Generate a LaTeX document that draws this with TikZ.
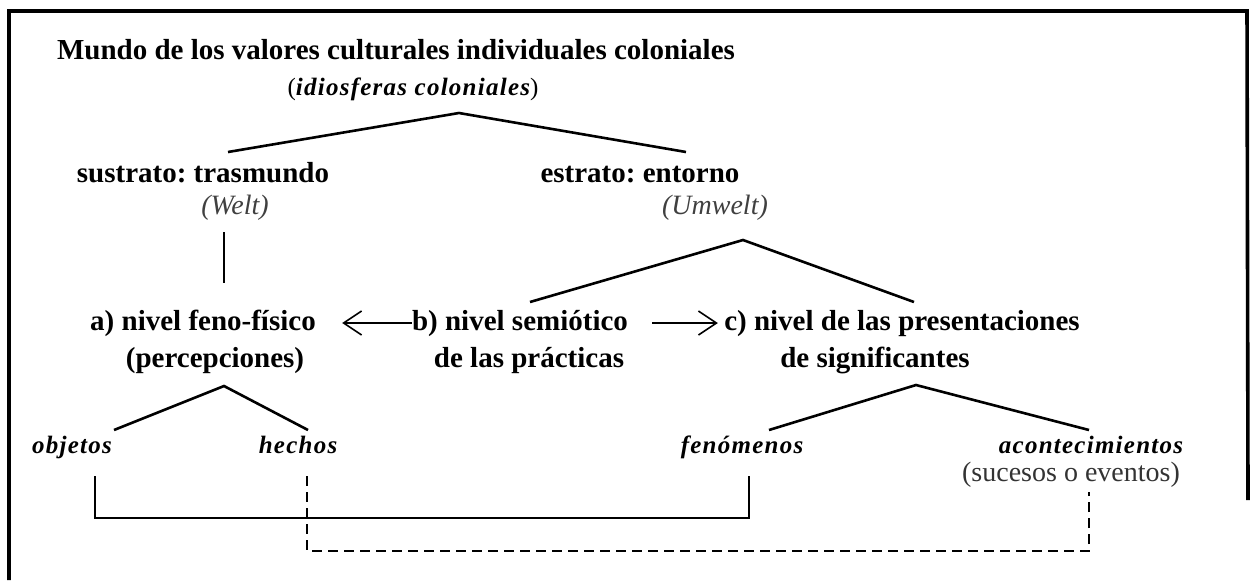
\documentclass[tikz,border=0pt]{standalone}
\usepackage{fontspec}
\setmainfont{Liberation Serif}
\usetikzlibrary{arrows.meta,positioning}

\begin{document}
\frenchspacing
\begin{tikzpicture}[
        x=0.5pt, y=-0.5pt,
        lbl/.style={font=\fontsize{14.5}{17}\selectfont\bfseries, inner sep=0pt, text height=10pt, text depth=3pt},
        cat/.style={font=\fontsize{12.5}{15}\selectfont\bfseries\itshape\addfontfeature{LetterSpace=5}, inner sep=0pt, text height=9pt, text depth=3pt},
        note/.style={font=\fontsize{14}{16}\selectfont\itshape, text=black!75, inner sep=0pt, text height=10pt, text depth=3pt},
        tree/.style={draw, line width=1.3pt},
        link/.style={draw, line width=1.1pt},
        dlink/.style={link, dash pattern=on 5pt off 3pt},
        line/.style={draw, -{Straight Barb[length=9pt,width=12pt]}, line width=0.8pt}
    ]
    \useasboundingbox (0,0) rectangle (1251,580);

    % frame
    \draw[line width=1.8pt] (9,580) -- (9,11) -- (1247,11) -- (1248,500);

    % nodes
    \node[lbl] (mundo) at (396,52) {Mundo de los valores culturales individuales coloniales};
    \node[cat] (idio) at (413,89) {{\normalfont(}idiosferas coloniales{\normalfont)}};
    \node[lbl] (sustrato) at (203,175) {sustrato: trasmundo};
    \node[note] (welt) at (235,207) {(Welt)};
    \node[lbl] (estrato) at (640,175) {estrato: entorno};
    \node[note] (umwelt) at (715,207) {(Umwelt)};
    \node[lbl] (a1) at (203,323) {a) nivel feno-físico};
    \node[lbl] (a2) at (215,360) {(percepciones)};
    \node[lbl] (b1) at (520,323) {b) nivel semiótico};
    \node[lbl] (b2) at (529,360) {de las prácticas};
    \node[lbl] (c1) at (902,323) {c) nivel de las presentaciones};
    \node[lbl] (c2) at (875,360) {de significantes};
    \node[cat] (objetos) at (72,447) {objetos};
    \node[cat] (hechos) at (298,447) {hechos};
    \node[cat] (fenom) at (742,447) {fenómenos};
    \node[cat] (acont) at (1091,447) {acontecimientos};
    \node[font=\fontsize{14}{16}\selectfont, text=black!80, inner sep=0pt, text height=10pt, text depth=3pt] (sucesos) at (1071,474) {(sucesos o eventos)};

    % tree points
    \coordinate (top) at (459,113);
    \coordinate (topL) at (228,152);
    \coordinate (topR) at (686,152);
    \coordinate (weltB) at (224,232);
    \coordinate (aT) at (224,283);
    \coordinate (umw) at (743,240);
    \coordinate (umwL) at (530,302);
    \coordinate (umwR) at (914,302);
    \coordinate (perc) at (224,386);
    \coordinate (percL) at (114,430);
    \coordinate (percR) at (308,430);
    \coordinate (sig) at (916,385);
    \coordinate (sigL) at (769,430);
    \coordinate (sigR) at (1089,430);
    \coordinate (objB) at (95,476);
    \coordinate (fenB) at (749,476);
    \coordinate (hecB) at (307,476);
    \coordinate (acoB) at (1089,492);

    % lines
    \path[tree] (topL) -- (top) -- (topR);
    \path[tree] (weltB) -- (aT);
    \path[tree] (umwL) -- (umw) -- (umwR);
    \path[tree] (percL) -- (perc) -- (percR);
    \path[tree] (sigL) -- (sig) -- (sigR);
    \path[line, shorten >=13pt] (b1.west) -- (a1.east);
    \path[line, shorten <=12pt, shorten >=3pt] (b1.east) -- (c1.west);
    \path[link] (objB) -- ++(0,42) -| (fenB);
    \path[dlink] (hecB) -- ++(0,75) -| (acoB);

\end{tikzpicture}
\end{document}
